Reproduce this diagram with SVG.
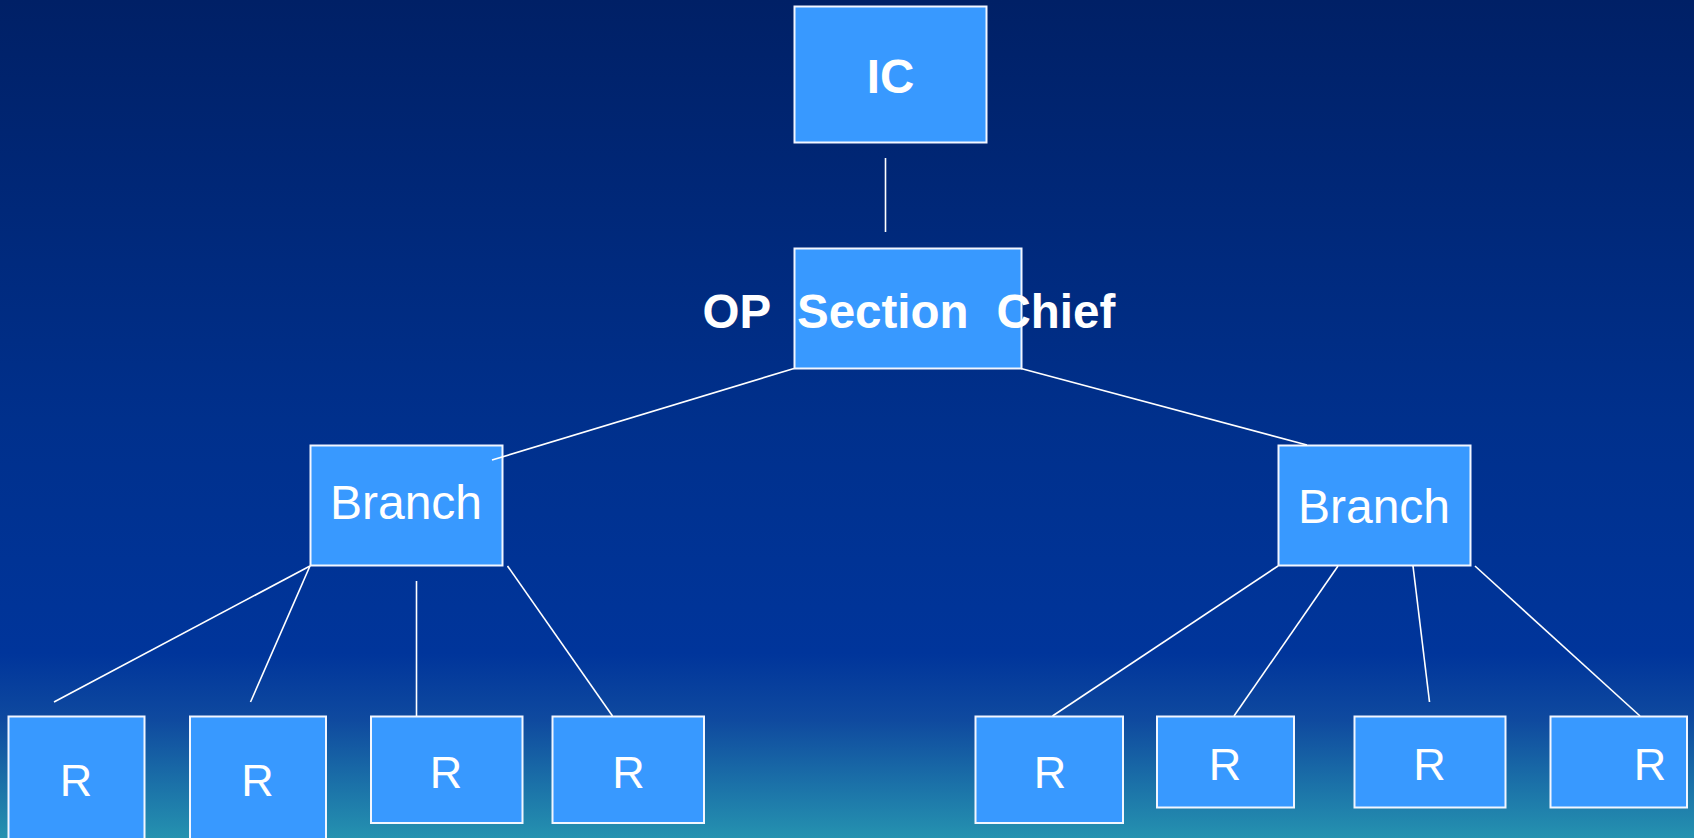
<svg xmlns="http://www.w3.org/2000/svg" width="1694" height="838" viewBox="0 0 1694 838">
<defs>
<linearGradient id="bg" x1="0" y1="0" x2="0" y2="1">
<stop offset="0" stop-color="#002066"/>
<stop offset="0.5" stop-color="#00308c"/>
<stop offset="0.78" stop-color="#00359b"/>
<stop offset="0.86" stop-color="#0f4a9f"/>
<stop offset="1" stop-color="#2592b0"/>
</linearGradient>
<style>
.box{fill:#3899ff;stroke:#f2f6ff;stroke-width:2}
.t{font-family:"Liberation Sans",Arial,sans-serif;fill:#ffffff;text-anchor:middle}
.b{font-weight:bold;font-size:47.5px}
.n{font-size:48px}
.r{font-size:45px}
.ln{stroke:#ffffff;stroke-width:1.6;fill:none}
</style>
</defs>
<rect x="0" y="0" width="1694" height="838" fill="url(#bg)"/>
<g id="ic">
<rect class="box" x="794.5" y="6.5" width="192" height="136"/>
<text class="t b" x="890.5" y="92.5">IC</text>
</g>
<g id="op">
<rect class="box" x="794.5" y="248.5" width="227" height="120"/>
<text class="t b" style="text-anchor:start" y="327.5"><tspan x="702.5">OP</tspan><tspan x="797">Section</tspan><tspan x="996.5">Chief</tspan></text>
</g>
<g id="branch-left">
<rect class="box" x="310.5" y="445.5" width="192" height="120"/>
<text class="t n" x="406" y="518.5">Branch</text>
</g>
<g id="branch-right">
<rect class="box" x="1278.5" y="445.5" width="192" height="120"/>
<text class="t n" x="1374" y="522.5">Branch</text>
</g>
<g id="r1">
<rect class="box" x="8.5" y="716.5" width="136" height="130"/>
<text class="t r" x="76" y="796">R</text>
</g>
<g id="r2">
<rect class="box" x="190" y="716.5" width="136" height="130"/>
<text class="t r" x="257.5" y="796">R</text>
</g>
<g id="r3">
<rect class="box" x="371" y="716.5" width="151.5" height="106.5"/>
<text class="t r" x="446" y="788">R</text>
</g>
<g id="r4">
<rect class="box" x="552.5" y="716.5" width="151.5" height="106.5"/>
<text class="t r" x="628.5" y="788">R</text>
</g>
<g id="r5">
<rect class="box" x="975.5" y="716.5" width="147.5" height="106.5"/>
<text class="t r" x="1050" y="788">R</text>
</g>
<g id="r6">
<rect class="box" x="1157" y="716.5" width="137" height="91"/>
<text class="t r" x="1225" y="780">R</text>
</g>
<g id="r7">
<rect class="box" x="1354.5" y="716.5" width="151" height="91"/>
<text class="t r" x="1429.5" y="780">R</text>
</g>
<g id="r8">
<rect class="box" x="1550.5" y="716.5" width="136.5" height="91"/>
<text class="t r" x="1650" y="780">R</text>
</g>
<g id="connectors">
<line class="ln" x1="885.5" y1="158" x2="885.5" y2="232"/>
<line class="ln" x1="794" y1="368.5" x2="492" y2="460"/>
<line class="ln" x1="1021" y1="368.5" x2="1307" y2="445"/>
<line class="ln" x1="310" y1="566" x2="54" y2="702"/>
<line class="ln" x1="310" y1="566" x2="250.5" y2="702"/>
<line class="ln" x1="416.5" y1="581" x2="416.5" y2="716"/>
<line class="ln" x1="507.5" y1="566" x2="612.5" y2="716"/>
<line class="ln" x1="1278" y1="566" x2="1052.5" y2="716"/>
<line class="ln" x1="1338" y1="566" x2="1234" y2="716"/>
<line class="ln" x1="1413" y1="566" x2="1429.5" y2="702"/>
<line class="ln" x1="1475" y1="566" x2="1640" y2="716"/>
</g>
</svg>
